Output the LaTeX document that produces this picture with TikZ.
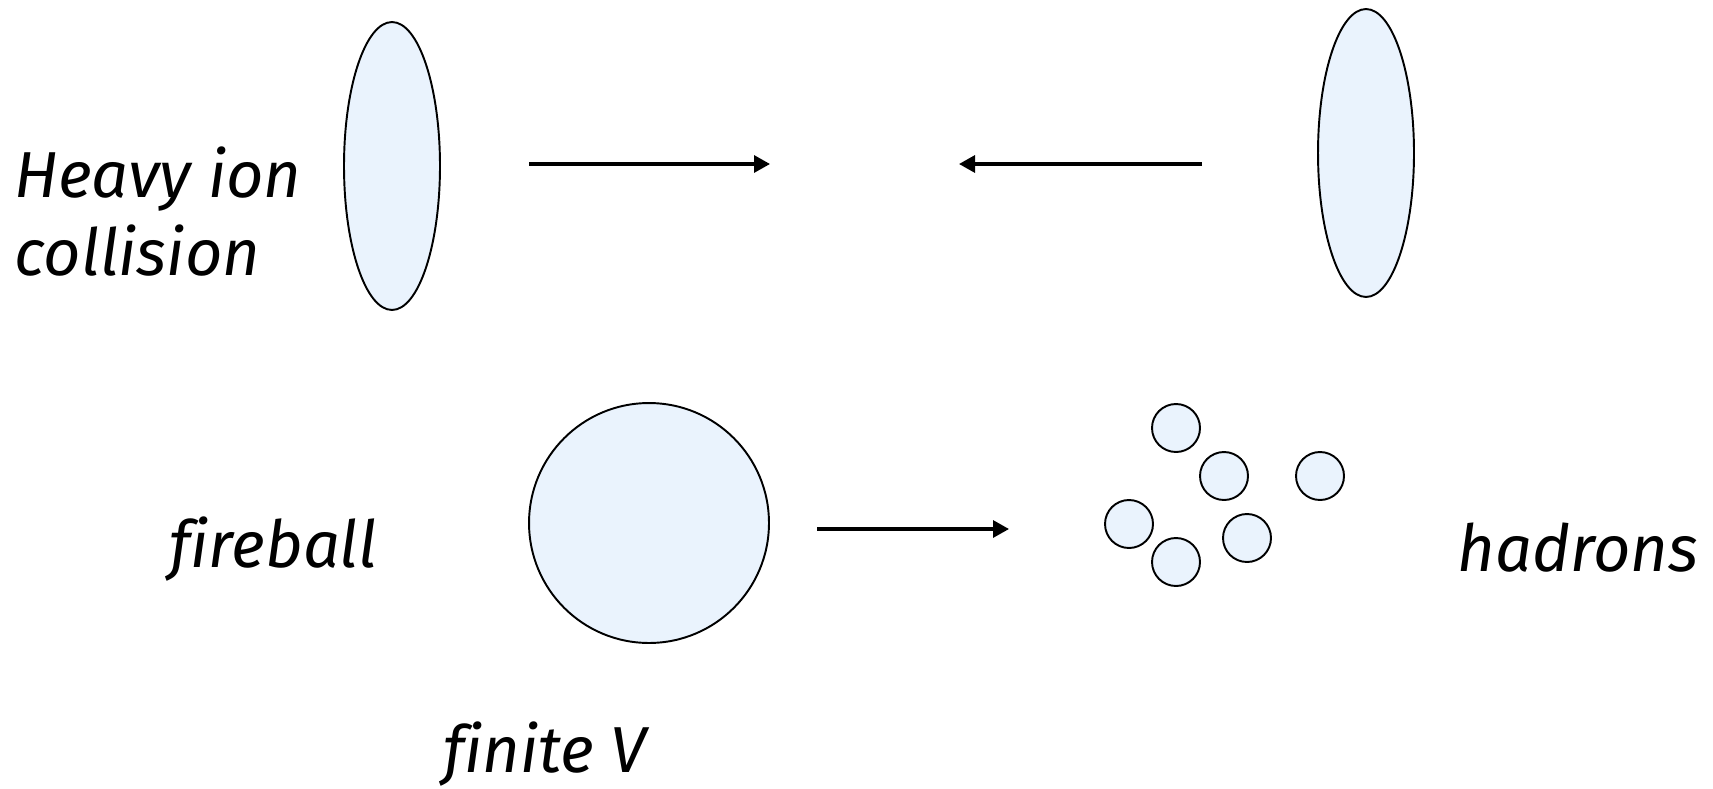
\documentclass[tikz,border=0pt]{standalone}
\usepackage{fontspec}
\setmainfont{Fira Sans}[Ligatures=NoCommon]
\usetikzlibrary{shapes.geometric,arrows.meta}
\definecolor{ionfill}{RGB}{234,243,253}
\tikzset{
  blob/.style={draw=black, fill=ionfill, line width=1.1pt, inner sep=0pt},
  disc/.style={ellipse, blob, minimum width=1.92cm, minimum height=5.76cm},
  hadron/.style={circle, blob, minimum size=0.96cm},
  flow/.style={-{Triangle[length=0.32cm,width=0.34cm]}, line width=1.8pt},
  lbl/.style={font=\fontsize{37}{44}\selectfont\itshape, inner sep=0pt, anchor=base west}
}
\begin{document}
\begin{tikzpicture}[x=0.02cm,y=-0.02cm]
\useasboundingbox (0,0) rectangle (1713,788);
% top row
\node[disc] (dl) at (392,166) {};
\node[disc] (dr) at (1366,153) {};
\coordinate (a1s) at (529,164);
\coordinate (a1e) at (770,164);
\coordinate (a2s) at (1202,164);
\coordinate (a2e) at (959,164);
\draw[flow] (a1s) -- (a1e);
\draw[flow] (a2s) -- (a2e);
\node[lbl] (hi1) at (14,197) {Heavy ion};
\node[lbl] (hi2) at (14,275) {collision};
% bottom row
\node[circle, blob, minimum size=4.8cm] (fb) at (649,523) {};
\coordinate (a3s) at (817,529);
\coordinate (a3e) at (1009,529);
\draw[flow] (a3s) -- (a3e);
\node[hadron] (h1) at (1176,428) {};
\node[hadron] (h2) at (1224,476) {};
\node[hadron] (h3) at (1320,476) {};
\node[hadron] (h4) at (1129,524) {};
\node[hadron] (h5) at (1247,538) {};
\node[hadron] (h6) at (1176,562) {};
\node[lbl] (fbl) at (169,567) {fireball};
\node[lbl] (had) at (1457,571) {hadrons};
\node[lbl] (fv) at (443,772) {finite V};
\end{tikzpicture}
\end{document}
